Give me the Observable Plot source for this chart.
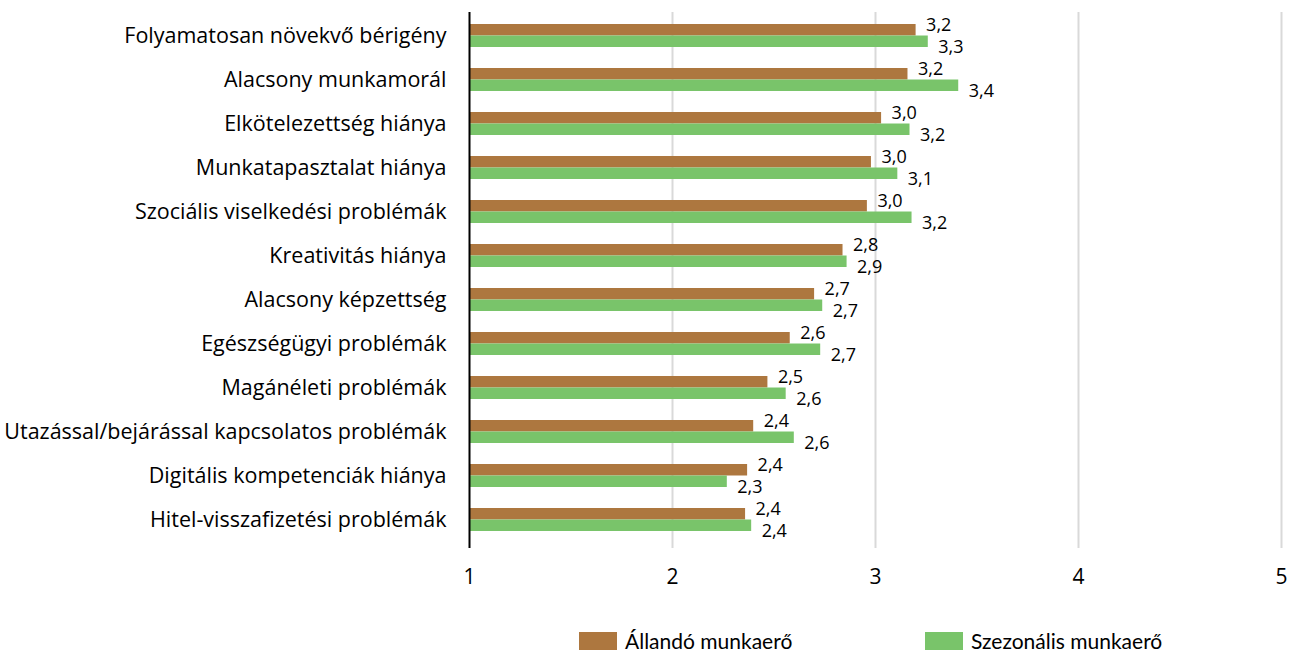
<!DOCTYPE html>
<html>
<head>
<meta charset="utf-8">
<script src="https://cdn.jsdelivr.net/npm/d3@7"></script>
<script src="https://cdn.jsdelivr.net/npm/@observablehq/plot@0.6"></script>
<style>
  html, body { margin: 0; padding: 0; background: #fff; }
  body { width: 1291px; height: 652px; position: relative; overflow: hidden; font-family: Lato, "Noto Sans", sans-serif; }
  #chart { position: absolute; left: 0; top: 0; }
  #legend { position: absolute; left: 0; top: 628px; width: 1291px; height: 24px; font-size: 21px; color: #000; }
  .item { position: absolute; top: 0; display: flex; align-items: center; white-space: nowrap; }
  .sw { width: 38px; height: 18px; margin-right: 8px; }
</style>
</head>
<body>
<div id="chart"></div>
<div id="legend"></div>
<script>
const categories = [
  "Folyamatosan növekvő bérigény",
  "Alacsony munkamorál",
  "Elkötelezettség hiánya",
  "Munkatapasztalat hiánya",
  "Szociális viselkedési problémák",
  "Kreativitás hiánya",
  "Alacsony képzettség",
  "Egészségügyi problémák",
  "Magánéleti problémák",
  "Utazással/bejárással kapcsolatos problémák",
  "Digitális kompetenciák hiánya",
  "Hitel-visszafizetési problémák"
];
const allando    = [3.20, 3.16, 3.03, 2.98, 2.96, 2.84, 2.70, 2.58, 2.47, 2.40, 2.37, 2.36];
const szezonalis = [3.26, 3.41, 3.17, 3.11, 3.18, 2.86, 2.74, 2.73, 2.56, 2.60, 2.27, 2.39];
const seriesNames = ["Állandó munkaerő", "Szezonális munkaerő"];
const seriesColors = ["#ad773f", "#79c46a"];
const xTicks = [1, 2, 3, 4, 5];

const rowsA = categories.map((c, i) => ({cat: c, series: seriesNames[0], value: allando[i]}));
const rowsS = categories.map((c, i) => ({cat: c, series: seriesNames[1], value: szezonalis[i]}));
const fmt = v => v.toFixed(1).replace(".", ",");

const W = 1291, H = 610, mT = 12, mB = 67, mL = 469, mR = 10;
const pad = 0.48;
const step = (H - mT - mB) / categories.length;
const bw = step * (1 - pad);
const half = bw / 2;

const chart = Plot.plot({
  width: W,
  height: H,
  marginTop: mT,
  marginBottom: mB,
  marginLeft: mL,
  marginRight: mR,
  style: {fontFamily: "'Open Sans', Lato, sans-serif", fontSize: "21px", color: "#000", background: "#fff"},
  x: {domain: [1, 5], ticks: xTicks},
  y: {domain: categories, padding: pad, paddingOuter: pad / 2},
  color: {domain: seriesNames, range: seriesColors},
  marks: [
    Plot.ruleX(xTicks.slice(1), {stroke: "#d9d9d9", strokeWidth: 2, insetBottom: -5}),
    Plot.barX(rowsA, {x1: () => 1, x2: "value", y: "cat", fill: "series", insetBottom: half}),
    Plot.barX(rowsS, {x1: () => 1, x2: "value", y: "cat", fill: "series", insetTop: half}),
    Plot.ruleX([xTicks[0]], {stroke: "#000", strokeWidth: 2, insetBottom: -5}),
    Plot.text(rowsA, {x: "value", y: "cat", text: d => fmt(d.value), textAnchor: "start", dx: 10, dy: -11, fontSize: 18, fill: "#000"}),
    Plot.text(rowsS, {x: "value", y: "cat", text: d => fmt(d.value), textAnchor: "start", dx: 10, dy: 11, fontSize: 18, fill: "#000"}),
    Plot.axisY({tickSize: 0, tickPadding: 23, label: null, fontSize: 21.5}),
    Plot.axisX({ticks: xTicks, tickSize: 0, tickPadding: 26, label: null, fontSize: 21, tickFormat: d => String(d)})
  ]
});
document.getElementById("chart").appendChild(chart);

const legend = document.getElementById("legend");
const legendLeft = [579, 925];
seriesNames.forEach((name, i) => {
  const item = document.createElement("div");
  item.className = "item";
  item.style.left = legendLeft[i] + "px";
  const sw = document.createElement("span");
  sw.className = "sw";
  sw.style.background = seriesColors[i];
  const t = document.createElement("span");
  t.textContent = name;
  item.appendChild(sw);
  item.appendChild(t);
  legend.appendChild(item);
});
</script>
</body>
</html>
